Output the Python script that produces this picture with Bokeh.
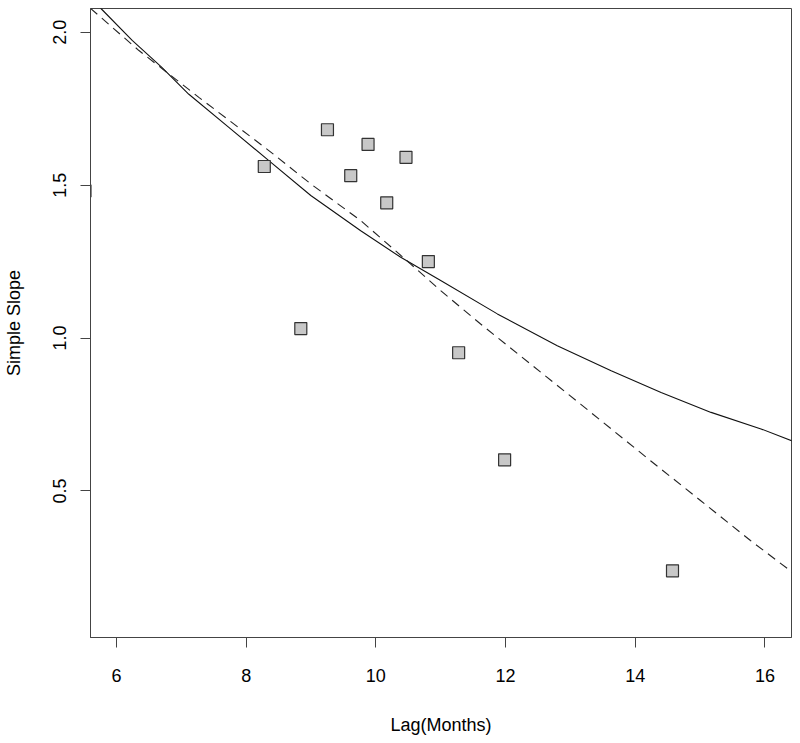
from bokeh.plotting import figure
from bokeh.models import FixedTicker
from bokeh.embed import file_html
from bokeh.resources import INLINE

# Observed points
lag = [5.515, 8.28, 9.254, 9.88, 10.465, 9.613, 10.168, 10.81, 8.843, 11.277, 11.986, 14.575]
slope = [1.481, 1.561, 1.681, 1.633, 1.591, 1.531, 1.442, 1.250, 1.031, 0.952, 0.602, 0.239]

# Solid curve
solid_x = [5.62, 5.761, 6.243, 6.70, 7.117, 7.733, 8.350, 8.997, 9.767, 10.384, 11.000, 11.874, 12.798, 13.629, 14.399, 15.170, 15.940, 16.45]
solid_y = [2.108, 2.0775, 1.973, 1.885, 1.797, 1.689, 1.580, 1.466, 1.351, 1.264, 1.188, 1.079, 0.975, 0.893, 0.822, 0.757, 0.703, 0.661]

# Dashed curve
dash_x = [5.60, 6.347, 7.271, 8.350, 8.997, 9.767, 10.538, 11.000, 11.616, 12.387, 13.157, 14.236, 15.006, 15.777, 16.45]
dash_y = [2.078, 1.940, 1.787, 1.613, 1.504, 1.384, 1.242, 1.155, 1.046, 0.915, 0.784, 0.599, 0.469, 0.338, 0.230]

x_ticks = [6, 8, 10, 12, 14, 16]
y_ticks = [0.5, 1.0, 1.5, 2.0]
y_tick_labels = {0.5: "0.5", 1.0: "1.0", 1.5: "1.5", 2.0: "2.0"}

FONT = "Liberation Sans"
AX = "#444444"

p = figure(width=792, height=740, output_backend="svg", toolbar_location=None,
           x_range=(5.60, 16.41), y_range=(0.021, 2.0775),
           min_border_left=90, min_border_right=1, min_border_top=8, min_border_bottom=103)
p.background_fill_color = "white"
p.border_fill_color = "white"
p.outline_line_color = AX
p.outline_line_width = 1
p.xgrid.visible = False
p.ygrid.visible = False

p.line(solid_x, solid_y, line_color="#111111", line_width=1.1)
p.line(dash_x, dash_y, line_color="#222222", line_width=1.1, line_dash="9 6")
p.scatter(lag, slope, marker="square", size=12, fill_color="#c8c8c8",
          line_color="#333333", line_width=1.2)

for ax in (p.xaxis[0], p.yaxis[0]):
    ax.axis_line_color = AX
    ax.major_tick_line_color = AX
    ax.major_tick_out = 10
    ax.major_tick_in = 0
    ax.minor_tick_line_color = None
    ax.major_label_text_font = FONT
    ax.major_label_text_font_size = "18px"
    ax.major_label_text_color = "black"
    ax.axis_label_text_font = FONT
    ax.axis_label_text_font_size = "18px"
    ax.axis_label_text_font_style = "normal"
    ax.axis_label_text_color = "black"

p.xaxis.ticker = FixedTicker(ticks=x_ticks)
p.yaxis.ticker = FixedTicker(ticks=y_ticks)
p.yaxis.major_label_overrides = y_tick_labels
p.yaxis.major_label_orientation = "vertical"
p.xaxis.major_label_standoff = 21
p.yaxis.major_label_standoff = 14
p.xaxis.axis_label = "Lag(Months)"
p.yaxis.axis_label = "Simple Slope"
p.xaxis.axis_label_standoff = 30
p.yaxis.axis_label_standoff = 27

open("out.html", "w").write(file_html(p, INLINE))
